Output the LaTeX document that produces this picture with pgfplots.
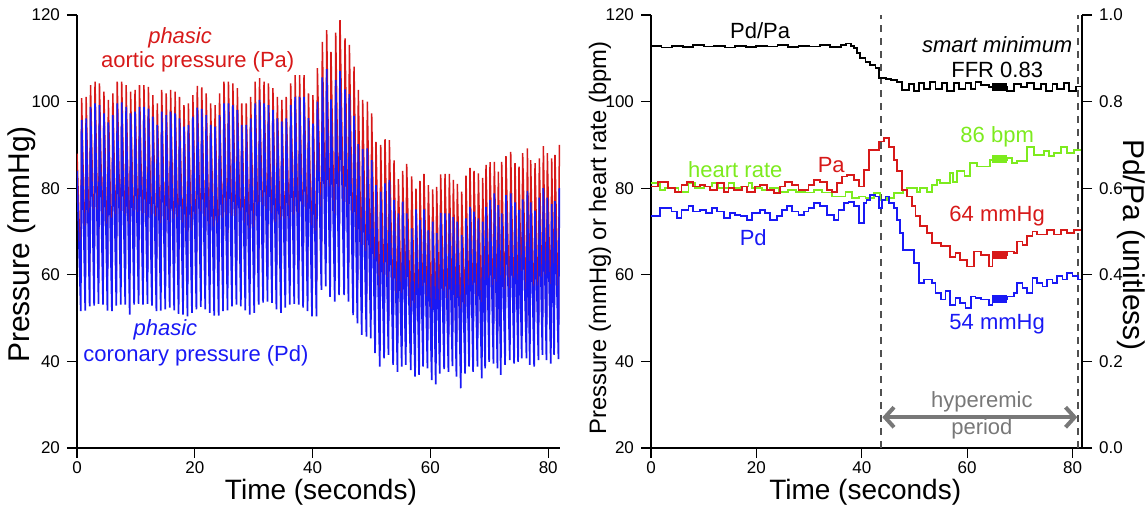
\documentclass[border=0pt]{standalone}
\usepackage{fontspec}
\setmainfont{Liberation Sans}
\usepackage{pgfplots}
\usepackage{pgfplotstable}
\pgfplotsset{compat=1.18}
\usetikzlibrary{arrows.meta}

\definecolor{pared}{RGB}{215,25,25}
\definecolor{pdblue}{RGB}{25,25,245}
\definecolor{hrgreen}{RGB}{125,235,30}
\definecolor{arrowgray}{RGB}{120,120,120}
\definecolor{dashgray}{RGB}{80,80,80}

% phasic traces: one trough row and one peak row per beat (t, Pa, Pd)
\pgfplotstableread[row sep=\\]{
t pa pd \\
0.00 88.0 84.0 \\
0.64 59.6 51.6 \\ 0.79 100.8 95.8 \\
1.40 59.7 51.7 \\ 1.55 101.1 96.1 \\
2.15 60.7 52.7 \\ 2.30 103.8 98.8 \\
2.91 60.9 52.9 \\ 3.06 104.6 99.6 \\
3.66 61.3 53.3 \\ 3.81 104.2 99.2 \\
4.42 61.1 53.1 \\ 4.57 102.3 97.3 \\
5.17 59.7 51.7 \\ 5.32 100.4 95.2 \\
5.93 59.6 51.6 \\ 6.08 101.9 96.9 \\
6.68 60.9 52.9 \\ 6.83 104.6 99.6 \\
7.44 61.1 53.1 \\ 7.59 104.6 99.8 \\
8.19 61.1 53.1 \\ 8.34 103.8 98.8 \\
8.95 58.8 50.8 \\ 9.10 102.3 97.3 \\
9.70 61.1 53.1 \\ 9.85 102.7 97.7 \\
10.46 61.3 53.3 \\ 10.61 103.8 98.8 \\
11.21 61.1 53.1 \\ 11.36 103.8 98.8 \\
11.97 61.3 53.3 \\ 12.12 103.4 98.4 \\
12.72 60.9 52.9 \\ 12.87 101.5 96.5 \\
13.48 59.6 51.6 \\ 13.63 99.6 94.6 \\
14.23 59.7 51.7 \\ 14.38 102.7 97.7 \\
14.99 60.0 52.0 \\ 15.14 101.9 96.9 \\
15.74 60.4 52.4 \\ 15.89 102.7 97.7 \\
16.50 59.8 51.8 \\ 16.65 102.3 97.3 \\
17.25 59.0 51.0 \\ 17.40 101.1 96.1 \\
18.01 58.8 50.8 \\ 18.16 99.2 94.2 \\
18.76 58.4 50.4 \\ 18.91 99.6 94.6 \\
19.52 59.2 51.2 \\ 19.67 101.5 96.5 \\
20.27 60.0 52.0 \\ 20.42 103.6 98.6 \\
21.03 60.6 52.6 \\ 21.18 103.3 98.3 \\
21.78 60.0 52.0 \\ 21.93 101.9 96.9 \\
22.54 59.2 51.2 \\ 22.69 99.6 94.6 \\
23.29 58.6 50.6 \\ 23.44 99.2 94.2 \\
24.05 58.6 50.6 \\ 24.20 101.9 96.9 \\
24.80 59.6 51.6 \\ 24.95 104.6 99.6 \\
25.56 59.8 51.8 \\ 25.71 104.6 99.6 \\
26.31 60.7 52.7 \\ 26.46 104.2 99.2 \\
27.07 61.1 53.1 \\ 27.22 103.1 98.1 \\
27.82 60.7 52.7 \\ 27.97 99.6 94.6 \\
28.58 59.8 51.8 \\ 28.73 99.6 94.6 \\
29.33 58.8 50.8 \\ 29.48 101.1 96.1 \\
30.09 59.2 51.2 \\ 30.24 104.6 99.6 \\
30.84 61.1 53.1 \\ 30.99 105.4 100.4 \\
31.60 61.6 53.6 \\ 31.75 104.6 99.6 \\
32.35 61.8 53.8 \\ 32.50 104.2 99.2 \\
33.11 61.5 53.5 \\ 33.26 103.1 98.1 \\
33.86 60.0 52.0 \\ 34.01 101.1 96.1 \\
34.62 59.2 51.2 \\ 34.77 100.4 95.4 \\
35.37 60.4 52.4 \\ 35.52 101.1 96.1 \\
36.13 61.1 53.1 \\ 36.28 104.2 99.2 \\
36.88 61.3 53.3 \\ 37.03 106.1 101.1 \\
37.64 61.1 53.1 \\ 37.79 106.1 101.1 \\
38.39 60.4 52.4 \\ 38.54 106.1 101.1 \\
39.15 59.6 51.6 \\ 39.30 101.9 96.2 \\
39.90 58.4 50.4 \\ 40.05 101.5 94.9 \\
40.66 58.4 50.4 \\ 40.81 107.7 100.0 \\
41.50 64.5 56.5 \\ 41.65 113.8 105.6 \\
42.24 65.3 57.3 \\ 42.39 116.5 107.5 \\
42.97 62.9 54.9 \\ 43.12 111.5 100.5 \\
43.77 61.8 53.8 \\ 43.92 115.9 105.0 \\
44.50 63.3 55.3 \\ 44.65 118.8 107.1 \\
45.35 63.3 55.3 \\ 45.50 114.6 102.8 \\
46.09 61.8 53.8 \\ 46.24 113.1 101.7 \\
46.88 58.7 50.7 \\ 47.03 108.1 96.7 \\
47.61 56.8 48.8 \\ 47.76 102.7 90.2 \\
48.35 54.1 46.1 \\ 48.50 100.4 89.0 \\
49.14 53.7 45.7 \\ 49.29 100.0 89.2 \\
49.88 53.3 45.3 \\ 50.03 97.3 86.5 \\
50.61 49.9 41.9 \\ 50.76 90.7 80.7 \\
51.41 46.8 38.8 \\ 51.56 90.0 79.2 \\
52.14 48.7 40.7 \\ 52.29 91.3 81.1 \\
52.88 49.5 41.5 \\ 53.03 91.1 81.9 \\
53.67 47.2 39.2 \\ 53.82 86.4 77.3 \\
54.41 45.6 37.6 \\ 54.56 82.1 74.2 \\
55.14 46.8 38.8 \\ 55.29 84.0 76.9 \\
55.82 47.2 39.2 \\ 55.97 85.6 74.2 \\
56.67 46.0 38.0 \\ 56.82 82.7 70.7 \\
57.40 44.5 36.5 \\ 57.55 79.9 75.1 \\
58.08 44.9 36.9 \\ 58.23 81.7 72.7 \\
58.76 46.8 38.8 \\ 58.91 83.3 75.1 \\
59.50 46.4 38.4 \\ 59.65 80.7 70.3 \\
60.23 43.7 35.7 \\ 60.38 79.7 72.3 \\
60.91 42.7 34.7 \\ 61.06 80.3 69.6 \\
61.59 45.2 37.2 \\ 61.74 83.2 74.3 \\
62.33 46.2 38.2 \\ 62.48 83.3 74.2 \\
63.06 45.6 37.6 \\ 63.21 83.3 74.2 \\
63.74 46.9 38.9 \\ 63.89 81.9 73.3 \\
64.42 44.5 36.5 \\ 64.57 81.0 72.3 \\
65.16 41.8 33.8 \\ 65.31 79.2 69.2 \\
65.89 45.2 37.2 \\ 66.04 82.9 73.0 \\
66.57 46.8 38.8 \\ 66.72 84.7 75.7 \\
67.25 45.6 37.6 \\ 67.40 84.0 74.6 \\
67.99 46.8 38.8 \\ 68.14 83.4 73.0 \\
68.72 44.1 36.1 \\ 68.87 82.4 72.3 \\
69.29 46.4 38.4 \\ 69.44 85.4 75.7 \\
69.97 47.9 39.9 \\ 70.12 86.0 77.3 \\
70.70 47.5 39.5 \\ 70.85 86.1 78.8 \\
71.38 46.4 38.4 \\ 71.53 83.8 76.1 \\
71.95 44.9 36.9 \\ 72.10 86.1 74.2 \\
72.68 47.2 39.2 \\ 72.83 87.4 78.4 \\
73.48 48.3 40.3 \\ 73.63 88.4 78.8 \\
74.21 47.5 39.5 \\ 74.36 85.8 76.7 \\
74.89 47.9 39.9 \\ 75.04 85.0 75.0 \\
75.51 48.7 40.7 \\ 75.66 88.1 77.4 \\
76.31 48.7 40.7 \\ 76.46 89.2 79.4 \\
76.87 47.2 39.2 \\ 77.02 86.5 76.7 \\
77.61 46.8 38.8 \\ 77.76 85.8 74.8 \\
78.34 48.3 40.3 \\ 78.49 86.9 77.8 \\
79.02 49.5 41.5 \\ 79.17 89.7 80.0 \\
79.70 48.3 40.3 \\ 79.85 88.1 77.8 \\
80.44 47.5 39.5 \\ 80.59 86.9 76.4 \\
81.00 49.5 41.5 \\ 81.15 87.7 77.0 \\
81.74 48.5 40.5 \\ 81.89 90.0 80.0 \\
}\phasic

% beat-averaged traces (step plots)
\pgfplotstableread{
t v
0 80.4
1.4 81.5
3.3 80.0
4.6 79.2
5.8 80.8
6.8 81.5
8.0 80.4
9.3 80.8
10.2 80.4
11.2 79.6
12.5 81.2
13.8 79.2
14.7 80.0
15.7 79.6
17.2 80.4
18.2 79.2
19.8 80.4
20.7 80.8
22.0 79.6
23.3 78.9
24.5 80.4
25.5 81.5
26.7 80.8
28.0 79.6
29.9 80.8
30.9 81.9
32.1 81.5
33.4 79.6
34.3 79.2
35.3 81.2
36.2 82.7
37.2 83.1
38.5 81.9
39.4 80.4
40.4 84.2
41.3 88.9
43.2 90.8
44.2 91.6
45.1 89.6
46.1 86.6
46.7 83.9
47.7 79.6
48.6 78.1
49.6 75.8
50.2 73.5
51.1 71.2
52.4 69.6
53.4 67.3
55.0 66.6
56.8 64.2
57.8 65.0
58.7 63.5
60.0 61.9
61.3 65.4
62.6 64.6
64.1 61.9
64.8 64.6
67.6 65.4
68.9 65.0
69.5 67.7
70.5 66.9
71.4 68.9
72.4 70.0
73.3 69.3
75.2 70.4
76.5 69.3
77.8 70.4
79.0 69.6
80.3 70.4
81.8 70.4
}\mpa

\pgfplotstableread{
t v
0 73.5
1.7 75.4
3.9 74.6
4.9 73.1
5.8 75.0
7.1 75.8
8.0 74.6
9.3 75.0
10.4 74.3
11.5 75.4
12.5 74.6
13.8 73.1
15.0 74.3
16.0 73.9
17.0 73.5
18.2 72.7
19.1 74.3
20.7 75.0
21.7 74.3
22.6 72.7
23.9 73.5
24.8 75.0
25.8 75.8
26.7 74.6
28.0 73.9
29.0 74.6
29.9 75.4
30.9 76.6
32.1 75.8
33.4 73.9
34.7 72.7
35.6 75.0
36.6 76.6
37.5 76.9
38.5 75.8
39.4 72.0
40.4 76.6
40.9 77.3
41.6 78.5
42.6 78.1
43.2 75.4
43.9 77.3
44.5 78.1
45.1 76.6
46.1 75.4
46.7 72.7
47.3 69.6
47.9 65.8
49.9 62.7
50.8 58.1
51.8 58.9
53.4 58.1
54.0 55.8
55.0 54.3
55.9 56.2
56.8 53.1
57.8 54.6
58.7 53.5
59.7 52.3
60.7 55.0
61.6 54.6
62.6 54.3
64.1 53.1
64.8 54.3
67.6 55.0
68.9 55.8
69.5 58.1
70.5 57.0
71.4 55.8
72.4 59.3
73.3 58.1
74.3 57.3
75.2 58.9
76.2 58.1
77.1 59.7
78.1 58.9
79.0 60.5
80.0 59.7
81.0 58.9
81.8 58.9
}\mpd

\pgfplotstableread{
t v
0 81.2
1.7 79.6
2.7 80.0
5.2 79.2
7.1 81.2
8.4 80.0
10.0 80.4
11.5 81.2
12.8 80.0
14.7 81.2
15.7 80.0
17.0 80.4
18.5 81.2
19.1 80.0
21.0 79.6
22.5 80.0
24.2 79.2
26.0 79.6
27.5 79.2
29.3 79.0
31.0 79.6
32.5 79.0
34.3 78.1
36.9 79.2
38.1 77.7
39.4 78.1
40.7 77.7
42.3 78.9
43.5 77.3
44.8 77.7
46.1 78.9
47.9 79.6
48.6 80.0
50.5 79.2
51.0 80.0
52.4 79.2
53.4 80.8
54.3 81.9
54.9 81.2
56.8 83.5
57.3 81.5
58.1 83.9
59.5 82.8
60.6 85.8
61.9 85.0
64.4 86.6
67.6 86.9
68.5 85.9
69.5 86.2
71.4 89.6
72.7 87.7
74.6 88.5
75.5 87.5
76.5 88.1
77.8 89.6
79.0 88.1
80.3 88.9
81.8 88.9
}\hr

\pgfplotstableread{
t v
0 0.928
2.0 0.925
4.0 0.929
6.0 0.926
8.0 0.930
10.0 0.927
12.0 0.929
14.0 0.925
16.0 0.928
18.0 0.926
20.0 0.929
22.0 0.927
24.0 0.930
26.0 0.926
28.0 0.929
30.0 0.927
32.0 0.931
34.0 0.926
36.0 0.931
37.0 0.934
38.0 0.929
38.5 0.923
39.1 0.912
39.7 0.900
40.7 0.892
41.6 0.885
42.6 0.877
43.2 0.854
44.6 0.852
45.5 0.850
46.7 0.846
47.7 0.827
48.9 0.840
49.9 0.825
50.8 0.843
51.8 0.829
53.0 0.846
54.0 0.829
55.3 0.843
56.2 0.825
57.5 0.843
58.4 0.829
59.7 0.843
60.7 0.829
61.6 0.846
62.6 0.838
64.1 0.833
67.6 0.825
68.9 0.840
70.2 0.833
71.4 0.843
72.7 0.829
74.0 0.840
74.9 0.825
76.2 0.840
77.1 0.829
78.4 0.843
79.3 0.825
80.6 0.835
81.8 0.835
}\ratio

\pgfplotsset{
  panel/.style={
    scale only axis, height=216.5pt,
    axis line style={line width=1.4pt},
    tick align=outside, major tick length=5pt,
    tick style={line width=0.6pt, black},
    ticklabel style={font=\fontsize{8.5}{10}\selectfont},
    xticklabel style={inner sep=1.5pt},
    /pgf/number format/assume math mode=true,
    clip mode=individual,
  },
}

\begin{document}
\begin{tikzpicture}
\useasboundingbox (-38.5pt,-29.5pt) rectangle (534pt,224pt);

% left panel: phasic pressures
\begin{axis}[panel,
  at={(0pt,0pt)}, anchor=south west, width=241.5pt,
  xmin=0, xmax=82, ymin=20, ymax=120,
  xtick={0,20,40,60,80}, ytick={20,40,60,80,100,120},
  axis x line*=bottom, axis y line*=left,
]
\addplot[pared, line width=0.75pt] table[x=t, y=pa] {\phasic};
\addplot[pdblue, line width=0.85pt] table[x=t, y=pd] {\phasic};
\node[pared, font=\fontsize{11}{13}\selectfont\itshape] at (axis cs:17.5,114.7) {phasic};
\node[pared, font=\fontsize{11}{13}\selectfont] at (axis cs:20.5,109.2) {aortic pressure (Pa)};
\node[pdblue, font=\fontsize{11}{13}\selectfont\itshape] at (axis cs:15.0,47.3) {phasic};
\node[pdblue, font=\fontsize{11}{13}\selectfont] at (axis cs:20.2,41.3) {coronary pressure (Pd)};
\node[rotate=90, font=\fontsize{15}{17}\selectfont] at ([xshift=-27.5pt]rel axis cs:0,0.47) {Pressure (mmHg)};
\node[inner sep=0pt, font=\fontsize{14}{16}\selectfont] at ([yshift=-22pt]rel axis cs:0.505,0) {Time (seconds)};
\end{axis}

% right panel: mean pressures, heart rate
\begin{axis}[panel,
  at={(287pt,0pt)}, anchor=south west, width=215.5pt,
  xmin=0, xmax=81.8, ymin=20, ymax=120,
  xtick={0,20,40,60,80}, ytick={20,40,60,80,100,120},
  axis x line*=bottom, axis y line*=left,
]
\addplot[dashgray, line width=0.9pt, dash pattern=on 3.5pt off 3pt] coordinates {(43.7,20) (43.7,120)};
\addplot[dashgray, line width=0.9pt, dash pattern=on 3.5pt off 3pt] coordinates {(81.1,20) (81.1,120)};
\addplot[hrgreen, line width=0.9pt, const plot] table[x=t, y=v] {\hr};
\addplot[pdblue, line width=0.9pt, const plot] table[x=t, y=v] {\mpd};
\addplot[pared, line width=0.9pt, const plot] table[x=t, y=v] {\mpa};
\addplot[hrgreen, line width=4pt] coordinates {(64.8,86.7) (67.6,86.7)};
\addplot[pared, line width=4pt] coordinates {(64.8,64.6) (67.6,64.6)};
\addplot[pdblue, line width=4pt] coordinates {(64.8,54.3) (67.6,54.3)};
\draw[arrowgray, line width=2pt, {Straight Barb[length=4.5pt,width=10pt]}-{Straight Barb[length=4.5pt,width=10pt]}] (axis cs:43.9,27.1) -- (axis cs:80.9,27.1);
\node[arrowgray, font=\fontsize{11}{13}\selectfont] at (axis cs:62.8,30.6) {hyperemic};
\node[arrowgray, font=\fontsize{11}{13}\selectfont] at (axis cs:62.8,24.4) {period};
\node[font=\fontsize{11}{13}\selectfont] at (axis cs:20.7,116.5) {Pd/Pa};
\node[font=\fontsize{11}{13}\selectfont\itshape] at (axis cs:65.7,113.1) {smart minimum};
\node[font=\fontsize{11}{13}\selectfont] at (axis cs:65.7,107.3) {FFR 0.83};
\node[hrgreen, font=\fontsize{11}{13}\selectfont] at (axis cs:65.7,91.9) {86 bpm};
\node[pared, font=\fontsize{11}{13}\selectfont] at (axis cs:65.7,73.5) {64 mmHg};
\node[pdblue, font=\fontsize{11}{13}\selectfont] at (axis cs:65.7,48.5) {54 mmHg};
\node[hrgreen, font=\fontsize{11}{13}\selectfont] at (axis cs:16.0,84.2) {heart rate};
\node[pared, font=\fontsize{11}{13}\selectfont] at (axis cs:34.2,85.4) {Pa};
\node[pdblue, font=\fontsize{11}{13}\selectfont] at (axis cs:19.4,68.6) {Pd};
\node[rotate=90, font=\fontsize{11.9}{14}\selectfont] at ([xshift=-25.5pt]rel axis cs:0,0.485) {Pressure (mmHg) or heart rate (bpm)};
\node[inner sep=0pt, font=\fontsize{14}{16}\selectfont] at ([yshift=-22pt]rel axis cs:0.497,0) {Time (seconds)};
\end{axis}

% right panel: Pd/Pa on the right-hand scale
\begin{axis}[panel,
  at={(287pt,0pt)}, anchor=south west, width=215.5pt,
  xmin=0, xmax=81.8, ymin=0, ymax=1,
  axis x line=none, axis y line*=right,
  ytick={0,0.2,0.4,0.6,0.8,1},
  yticklabel style={/pgf/number format/.cd, fixed, fixed zerofill, precision=1},
]
\addplot[black, line width=0.9pt, const plot] table[x=t, y=v] {\ratio};
\addplot[black, line width=4pt] coordinates {(64.8,0.833) (67.6,0.833)};
\node[rotate=-90, font=\fontsize{15}{17}\selectfont] at ([xshift=24.5pt]rel axis cs:1,0.469) {Pd/Pa (unitless)};
\end{axis}
\end{tikzpicture}
\end{document}
